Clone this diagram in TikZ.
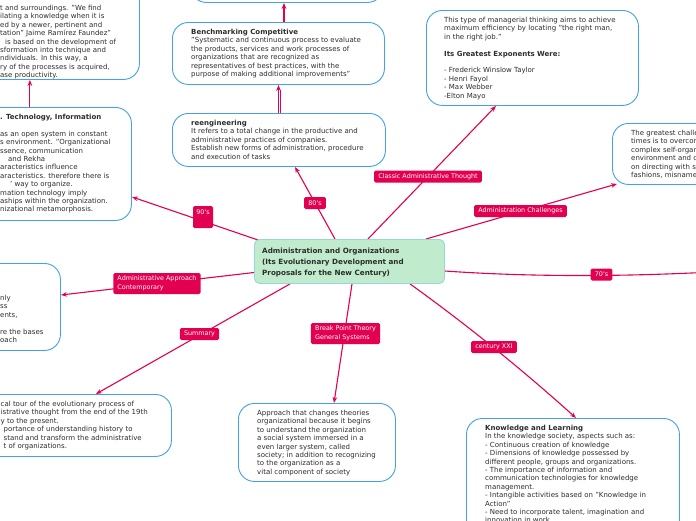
\documentclass[tikz,border=0pt]{standalone}
\usepackage{fontspec}
\setmainfont{DejaVu Sans}
\usetikzlibrary{arrows.meta,calc,backgrounds}
\definecolor{crim}{RGB}{228,0,80}
\definecolor{bblue}{RGB}{66,163,228}
\definecolor{ink}{RGB}{45,45,45}
\definecolor{cfill}{RGB}{192,235,205}
\definecolor{cline}{RGB}{150,214,222}
\tikzset{
  box/.style={draw=bblue, line width=0.9pt, fill=white, rounded corners=16pt, inner sep=0pt, anchor=north west},
  txt/.style={anchor=north west, inner sep=0pt, align=left, text=ink, font=\fontsize{7}{8.4}\selectfont},
  lab/.style={fill=crim, text=white, rounded corners=1.5pt, inner xsep=4.2pt, inner ysep=0pt, minimum height=12pt, font=\fontsize{6.4}{9}\selectfont, align=left},
  conn/.style={draw=crim, line width=1.1pt},
  arr/.style={conn, -{Stealth[length=6pt,width=4.6pt]}},
}
\begin{document}
\begin{tikzpicture}[x=1pt,y=-1pt]
\useasboundingbox (0,0) rectangle (696,520);
% boxes
\node[box, minimum width=239pt, minimum height=119pt] (tl) at (-100,-40) {};
\node[box, minimum width=193pt, minimum height=62pt] (topb) at (190,-60) {};
\node[box, minimum width=212pt, minimum height=62pt] (bench) at (172,22) {};
\node[box, minimum width=213pt, minimum height=53pt] (reeng) at (172,113) {};
\node[box, minimum width=231pt, minimum height=113pt] (tech) at (-100,107) {};
\node[box, minimum width=212pt, minimum height=95pt] (classic) at (426,10) {};
\node[box, minimum width=200pt, minimum height=61pt] (chall) at (612,123) {};
\node[box, minimum width=160pt, minimum height=87pt] (appr) at (-100,263) {};
\node[box, minimum width=271pt, minimum height=62pt] (summ) at (-100,394) {};
\node[box, minimum width=157pt, minimum height=78pt] (brk) at (238,403) {};
\node[box, minimum width=213pt, minimum height=160pt] (know) at (466,418) {};
\node[draw=cline, fill=cfill, line width=0.9pt, rounded corners=5pt, inner sep=0pt, anchor=north west, minimum width=190pt, minimum height=44pt] (center) at (254,239) {};
% texts
\node[txt] (tl-t) at (0,5) {t and surroundings. "We find\\
ilating a knowledge when it is\\
ed by a newer, pertinent and\\
tation" Jaime Ramírez Faundez"\\
\hspace*{5pt}is based on the development of\\
sformation into technique and\\
ndividuals. In this way, a\\
ry of the processes is acquired,\\
ase productivity.};
\node[txt] (bench-t) at (191,29) {\textbf{Benchmarking Competitive}\\
"Systematic and continuous process to evaluate\\
the products, services and work processes of\\
organizations that are recognized as\\
representatives of best practices, with the\\
purpose of making additional improvements"};
\node[txt] (reeng-t) at (191,120) {\textbf{reengineering}\\
It refers to a total change in the productive and\\
administrative practices of companies.\\
Establish new forms of administration, procedure\\
and execution of tasks};
\node[txt] (tech-t) at (0,114) {\textbf{. Technology, Information}\\
\mbox{}\\
as an open system in constant\\
s environment. "Organizational\\
ssence, communication\\
\hspace*{8pt}and Rekha\\
aracteristics influence\\
aracteristics. therefore there is\\
\hspace*{10pt}' way to organize.\\
mation technology imply\\
aships within the organization.\\
nizational metamorphosis.};
\node[txt] (classic-t) at (444,17) {This type of managerial thinking aims to achieve\\
maximum efficiency by locating "the right man,\\
in the right job."\\
\mbox{}\\
\textbf{Its Greatest Exponents Were:}\\
\mbox{}\\
- Frederick Winslow Taylor\\
- Henri Fayol\\
- Max Webber\\
-Elton Mayo};
\node[txt] (chall-t) at (631,130) {The greatest challen\\
times is to overcom\\
complex self-organi\\
environment and co\\
on directing with so\\
fashions, misnamed};
\node[txt] (appr-t) at (0,295) {nly\\
ss\\
ents,\\
\mbox{}\\
re the bases\\
oach};
\node[txt] (summ-t) at (0.5,401) {cal tour of the evolutionary process of\\
istrative thought from the end of the 19th\\
y to the present.\\
\hspace*{3pt}portance of understanding history to\\
\hspace*{3pt}stand and transform the administrative\\
\hspace*{3pt}t of organizations.};
\node[txt] (brk-t) at (257,410) {Approach that changes theories\\
organizational because it begins\\
to understand the organization\\
a social system immersed in a\\
even larger system, called\\
society; in addition to recognizing\\
to the organization as a\\
vital component of society};
\node[txt] (know-t) at (485,425) {\textbf{Knowledge and Learning}\\
In the knowledge society, aspects such as:\\
- Continuous creation of knowledge\\
- Dimensions of knowledge possessed by\\
different people, groups and organizations.\\
- The importance of information and\\
communication technologies for knowledge\\
management.\\
- Intangible activities based on "Knowledge in\\
Action"\\
- Need to incorporate talent, imagination and\\
innovation in work.};
\node[anchor=north west, inner sep=0pt, align=left, text=ink, font=\fontsize{7.2}{11}\selectfont\bfseries] (center-t) at (262,247.5) {Administration and Organizations\\
(Its Evolutionary Development and\\
Proposals for the New Century)};
% labels
\node[lab, align=center, minimum width=20pt, minimum height=22pt, inner xsep=0pt] (l90) at (203,217) {90\textquotesingle s\\\mbox{}};
\node[lab] (l80) at (315,203) {80\textquotesingle s};
\node[lab] (lclassic) at (428,176.5) {Classic Administrative Thought};
\node[lab] (lchall) at (520.5,211) {Administration Challenges};
\node[lab] (l70) at (601.5,274.5) {70\textquotesingle s};
\node[lab] (lxxi) at (494,347) {century XXI};
\node[lab, minimum height=21pt] (lbrk) at (345.5,333.5) {Break Point Theory\\General Systems};
\node[lab] (lsumm) at (199.5,334) {Summary};
\node[lab, minimum height=21pt] (lappr) at (157,283.5) {Administrative Approach\\Contemporary};
\coordinate (r70) at (702,272.5);
% connectors
\begin{scope}[on background layer]
\draw[arr] ($(center.north west)+(4,1)$) -- ($(tech.south east)+(0,-24)$);
\draw[arr] ($(center.north west)+(81,0)$) -- ($(reeng.south west)+(123,0)$);
\draw[arr] ($(center.north west)+(114,0)$) -- ($(classic.south west)+(70,0)$);
\draw[arr] ($(center.north west)+(172,0)$) -- ($(chall.south west)+(5,-1)$);
\draw[conn] ($(center.north east)+(0,32)$) .. controls (530,277) and (620,276.5) .. (r70);
\draw[arr] ($(center.south west)+(156,0)$) .. controls (470,327) and (526,373) .. ($(know.north west)+(110,0)$);
\draw[arr] ($(center.south west)+(98,0)$) -- ($(brk.north west)+(96,0)$);
\draw[arr] ($(center.south west)+(36,0)$) -- ($(summ.north east)+(-76,0)$);
\draw[arr] ($(center.north west)+(0,33.5)$) -- ($(appr.north east)+(0,32)$);
\draw[arr] ($(reeng.north west)+(106.5,0)$) -- ($(bench.south west)+(106.5,0)$);
\draw[conn, line width=0.8pt] ($(reeng.north west)+(108.6,0)$) -- ($(bench.south west)+(108.6,5)$);
\draw[arr] ($(bench.north west)+(112,0)$) -- ($(topb.south west)+(94,0)$);
\draw[arr] ($(tech.north east)+(-102,0)$) -- ($(tl.south east)+(-110,0)$);
\end{scope}
\end{tikzpicture}
\end{document}
